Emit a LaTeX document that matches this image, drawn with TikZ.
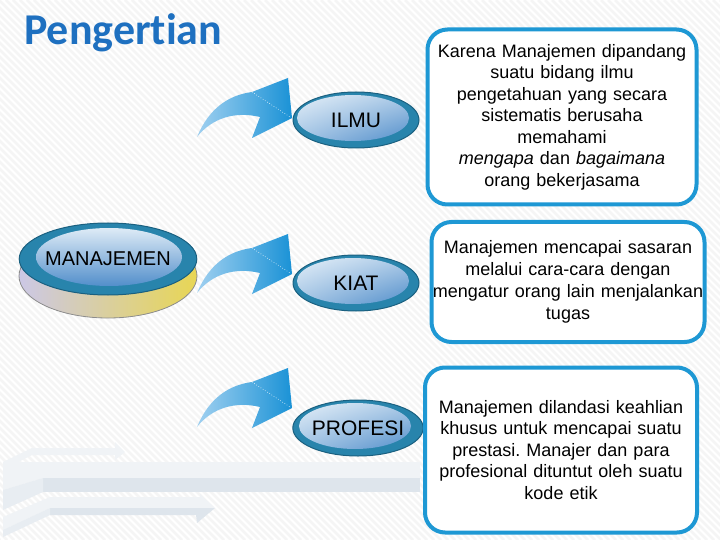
\documentclass[tikz,border=0pt]{standalone}
\usepackage{fontspec}
\usepackage{tikz}
\usetikzlibrary{shapes,shadings,positioning}
\newfontfamily\arialfont{Liberation Sans}
\newfontfamily\titlefont[Ligatures=NoCommon]{Carlito}
\frenchspacing
\definecolor{titleblue}{RGB}{30,112,192}
\definecolor{boxblue}{RGB}{30,152,212}
\definecolor{arrowlight}{RGB}{160,208,240}
\definecolor{arrowdark}{RGB}{26,146,214}
\definecolor{ringteal}{RGB}{40,132,172}
\definecolor{ringedge}{RGB}{26,96,128}
\definecolor{facelight}{RGB}{234,243,250}
\definecolor{facedark}{RGB}{60,128,196}
\definecolor{baseyellow}{RGB}{232,214,84}
\definecolor{baselilac}{RGB}{204,200,230}
\definecolor{stripelight}{RGB}{240,243,246}
\definecolor{stripemid}{RGB}{232,237,242}
\definecolor{stripedark}{RGB}{222,229,236}

\tikzset{
  hatch/.style={draw=black!4, line width=2.5pt},
  disc/.style={ellipse, draw=ringedge, line width=1pt, fill=ringteal,
    minimum width=126pt, minimum height=56pt, inner sep=0pt,
    font=\arialfont\fontsize{21}{24}\selectfont,
    path picture={\shade[upper left=facelight, upper right=facelight!65!facedark,
      lower left=facelight!55!facedark, lower right=facedark]
      ([shift={(-3,-2)}]path picture bounding box.center) ellipse (56 and 23);}},
  bigdisc/.style={disc, minimum width=166pt, minimum height=72pt,
    font=\arialfont\fontsize{20}{23}\selectfont,
    path picture={\shade[top color=facelight, bottom color=facedark]
      ([shift={(1,-2)}]path picture bounding box.center) ellipse (73 and 29);}},
  infobox/.style={draw=boxblue, line width=4pt, rounded corners=20pt, fill=white,
    align=center, inner sep=0pt,
    font=\arialfont\fontsize{18}{21.5}\selectfont},
  pics/bentarrow/.style={code={
    \shade[left color=arrowlight, right color=arrowdark]
      (0,0) .. controls (12,-29) and (32,-42) .. (55,-45) -- (91,-59) -- (95,-19)
      -- (55,1) -- (63,-20) .. controls (38,-26) and (15,-19) .. (0,0) -- cycle;
    \draw[white, dotted, line width=0.6pt] (55,-45) -- (93,-20);
  }}
}

\begin{document}
\begin{tikzpicture}[x=1pt, y=-1pt]
    \useasboundingbox (0,0) rectangle (720,540);
    \fill[white] (0,0) rectangle (720,540);

    % faint diagonal background lines
    \begin{scope}
        \clip (0,0) rectangle (720,540);
        \foreach \i in {-540,-533,...,720}
            \draw[hatch] (\i,0) -- (\i+540,540);
    \end{scope}

    % grey strips, bottom left
    \fill[stripelight] (3,462) -- (32,448) -- (115,448) -- (115,442) -- (125,452)
        -- (115,460) -- (115,455) -- (32,455) -- (3,470) -- cycle;
    \fill[stripelight] (3,462) -- (420,462) -- (420,478) -- (43,478) -- (3,490) -- cycle;
    \fill[stripedark] (43,478) -- (420,478) -- (420,492) -- (43,492) -- cycle;
    \fill[stripemid] (3,490) -- (43,478) -- (43,492) -- (3,510) -- cycle;
    \fill[stripelight] (3,517) -- (50,497) -- (200,497) -- (200,494) -- (215,508)
        -- (50,508) -- (3,530) -- cycle;
    \fill[stripedark] (50,508) -- (215,508) -- (197,523) -- (196,515) -- (50,515) -- cycle;
    \fill[stripemid] (3,530) -- (50,508) -- (50,515) -- (3,537) -- cycle;

    \node[anchor=base west, inner sep=0pt, text=titleblue,
          font=\titlefont\bfseries\fontsize{44}{50}\selectfont] (title) at (24,45) {Pengertian};

    % manajemen disc with its base
    \shade[left color=baselilac, right color=baseyellow, draw=black!45, line width=0.8pt]
        (108,276) ellipse (89 and 42);
    \node[bigdisc] (manajemen) at (108,259) {MANAJEMEN};

    \node[disc] (ilmu) at (356,120) {ILMU};
    \node[disc] (kiat) at (356,283) {KIAT};
    \node[disc] (profesi) at (358,428) {PROFESI};

    \pic at (197,137) {bentarrow};
    \pic at (197,293) {bentarrow};
    \pic at (197,427) {bentarrow};

    \node[infobox, minimum width=269pt, minimum height=175pt, text width=267pt] (ilmutext) at (562,117)
        {Karena Manajemen dipandang\\suatu bidang ilmu\\pengetahuan yang secara\\sistematis berusaha\\memahami\\\textit{mengapa} dan \textit{bagaimana}\\orang bekerjasama};
    \node[infobox, minimum width=273pt, minimum height=120pt, text width=272pt,
          font=\arialfont\fontsize{18}{22}\selectfont] (kiattext) at (568,282)
        {Manajemen mencapai sasaran\\melalui cara-cara dengan\\mengatur orang lain menjalankan\\tugas};
    \node[infobox, minimum width=272pt, minimum height=165pt, text width=270pt] (profesitext) at (561,450)
        {Manajemen dilandasi keahlian\\khusus untuk mencapai suatu\\prestasi. Manajer dan para\\profesional dituntut oleh suatu\\kode etik};
\end{tikzpicture}
\end{document}
